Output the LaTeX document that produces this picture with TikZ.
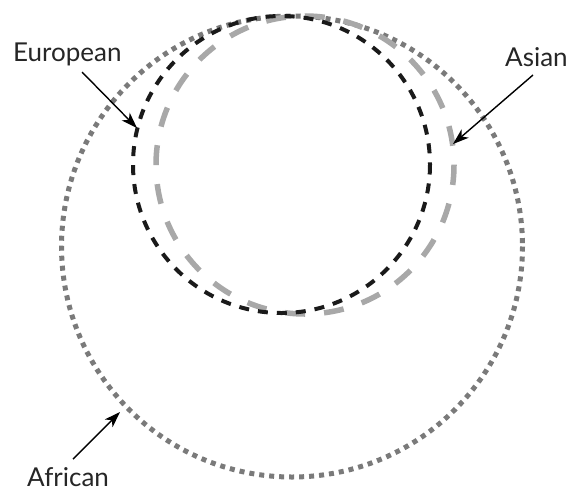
\documentclass[tikz,border=0pt]{standalone}
\usepackage{fontspec}
\setmainfont{Lato}
\usetikzlibrary{arrows.meta}
\definecolor{dotgray}{HTML}{7A7A7A}
\definecolor{dashgray}{HTML}{A8A8A8}
\definecolor{dashblack}{HTML}{1A1A1A}
\tikzset{
  lbl/.style={inner sep=0pt, anchor=base west, font=\fontsize{26}{30}\selectfont, text=black!85},
  pointer/.style={line width=1.4pt, -{Stealth[length=16pt,width=11pt,inset=4.5pt]}},
  african/.style={draw=dotgray, line width=5pt, dash pattern=on 5pt off 5pt},
  european/.style={draw=dashblack, line width=4pt, dash pattern=on 10pt off 9pt},
  asian/.style={draw=dashgray, line width=5.5pt, dash pattern=on 20pt off 19pt}
}
\begin{document}
\begin{tikzpicture}[x=1pt,y=-1pt]
\useasboundingbox (0,0) rectangle (569,491);
\draw[african] (292,246.5) circle[radius=230.5];
\draw[asian] (305,165) circle[radius=149];
\draw[european] (281.5,164.5) circle[radius=148.5];
\node[lbl] (eu) at (13,61) {European};
\node[lbl] (as) at (505,66) {Asian};
\node[lbl] (af) at (27,486) {African};
\coordinate (eus) at (82,72);
\coordinate (eut) at (137,128);
\coordinate (ass) at (533,75);
\coordinate (ast) at (453,144);
\coordinate (afs) at (73,459);
\coordinate (aft) at (120,412);
\draw[pointer] (eus) -- (eut);
\draw[pointer] (ass) -- (ast);
\draw[pointer] (afs) -- (aft);
\end{tikzpicture}
\end{document}
